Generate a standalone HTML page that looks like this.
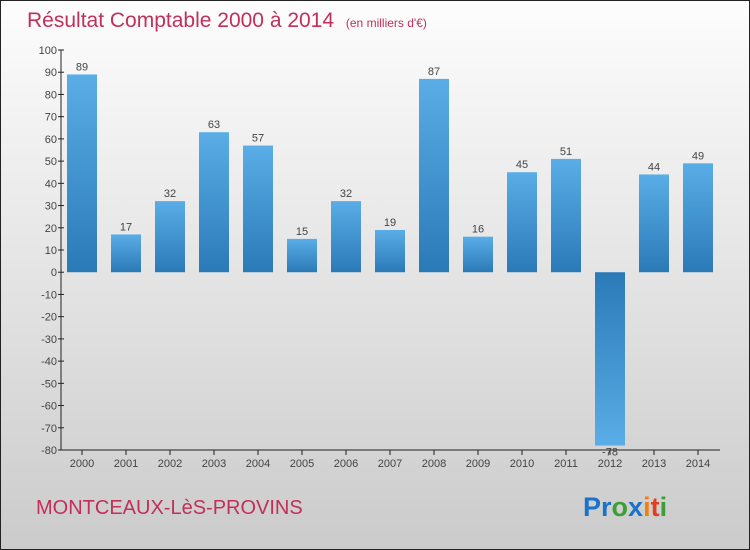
<!DOCTYPE html>
<html><head><meta charset="utf-8"><style>
body{margin:0}
#c{width:750px;height:550px;position:relative;overflow:hidden;font-family:"Liberation Sans",sans-serif}
</style></head><body>
<div id="c">
<svg width="750" height="550" id="s">
<defs>
<linearGradient id="bg" x1="0" y1="0" x2="0" y2="1"><stop offset="0" stop-color="#fdfdfd"/><stop offset="1" stop-color="#cbcbcb"/></linearGradient>
<linearGradient id="bp" x1="0" y1="0" x2="0" y2="1"><stop offset="0" stop-color="#5aade6"/><stop offset="1" stop-color="#2a7ab8"/></linearGradient>
<linearGradient id="bn" x1="0" y1="0" x2="0" y2="1"><stop offset="0" stop-color="#2a7ab8"/><stop offset="1" stop-color="#5aade6"/></linearGradient>
</defs>
<rect x="0.5" y="0.5" width="749" height="549" fill="url(#bg)" stroke="#222"/>
<text x="27" y="27" font-size="21" fill="#c0305a">Résultat Comptable 2000 à 2014 <tspan font-size="12" dx="6">(en milliers d'€)</tspan></text>
<text x="36" y="514" font-size="20" fill="#c0305a">MONTCEAUX-LèS-PROVINS</text>
<text x="583" y="516" font-size="27" font-weight="bold"><tspan fill="#1a73c8">Pr</tspan><tspan fill="#3aa035">o</tspan><tspan fill="#1a73c8">x</tspan><tspan fill="#f08010">i</tspan><tspan fill="#e04020">t</tspan><tspan fill="#3aa035">i</tspan></text>
<g id="g"></g>
</svg>
</div>
<script>
const years=["2000","2001","2002","2003","2004","2005","2006","2007","2008","2009","2010","2011","2012","2013","2014"];
const values=[89,17,32,63,57,15,32,19,87,16,45,51,-78,44,49];
const yTicks=[100,90,80,70,60,50,40,30,20,10,0,-10,-20,-30,-40,-50,-60,-70,-80];
const NS="http://www.w3.org/2000/svg",g=document.getElementById('g');
const y=v=>50+(100-v)*400/180;
const x=i=>82+i*44.0;
function mk(t,a,txt){const e=document.createElementNS(NS,t);for(const k in a)e.setAttribute(k,a[k]);if(txt!=null)e.textContent=txt;g.appendChild(e);return e;}
let e=mk('line',{x1:61,y1:50,x2:61,y2:450,stroke:'#222'});

e=mk('line',{x1:61,y1:450,x2:720,y2:450,stroke:'#222'});

yTicks.forEach(v=>{mk('line',{x1:58,y1:y(v),x2:64,y2:y(v),stroke:'#222'});
e=mk('text',{x:57,y:y(v)+4,'font-size':11,fill:'#444','text-anchor':'end'},String(v));
});
years.forEach((yr,i)=>{const v=values[i],top=Math.min(y(v),y(0)),h=Math.abs(y(v)-y(0));
e=mk('rect',{x:x(i)-15,y:top,width:30,height:h,fill:v>=0?'url(#bp)':'url(#bn)'});

mk('line',{x1:x(i),y1:450,x2:x(i),y2:455,stroke:'#222'});
e=mk('text',{x:x(i),y:467,'font-size':11,fill:'#444','text-anchor':'middle'},yr);

e=mk('text',{x:x(i),y:v>=0?y(v)-4:y(v)+10,'font-size':11,fill:'#444','text-anchor':'middle'},String(v));
});
</script>
</body></html>
